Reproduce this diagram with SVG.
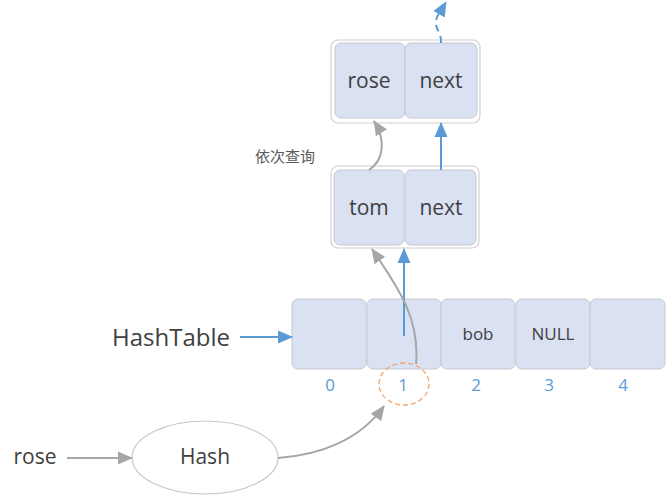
<svg xmlns="http://www.w3.org/2000/svg" width="667" height="496" viewBox="0 0 667 496">
<style>
.outer{fill:#fff;stroke:#d0d0d0;stroke-width:1.2}
.cell{fill:#dae1f2;stroke:#c4c8d0;stroke-width:1}
.t{font-family:"Open Sans","Noto Sans",sans-serif;fill:#404040;text-anchor:middle;dominant-baseline:central}
.idx{font-family:"Open Sans","Noto Sans",sans-serif;fill:#5b9bd5;font-size:17px;text-anchor:middle;dominant-baseline:central}
.blue{fill:none;stroke:#5b9bd5;stroke-width:2}
.gray{fill:none;stroke:#a6a6a6;stroke-width:2}
</style>
<defs>
<marker id="ab" markerUnits="userSpaceOnUse" markerWidth="16" markerHeight="16" viewBox="0 0 16 16" refX="14" refY="8" orient="auto">
<path d="M0,1.5 L15,8 L0,14.5 Z" fill="#5b9bd5"/>
</marker>
<marker id="ag" markerUnits="userSpaceOnUse" markerWidth="16" markerHeight="16" viewBox="0 0 16 16" refX="14" refY="8" orient="auto">
<path d="M0,1.5 L15,8 L0,14.5 Z" fill="#a6a6a6"/>
</marker>
</defs>
<g id="node-rose">
<rect class="outer" x="331" y="40" width="149" height="83" rx="7"/>
<rect class="cell" x="335" y="43" width="70" height="75" rx="6"/>
<rect class="cell" x="405" y="43" width="72" height="75" rx="6"/>
<text class="t" x="369" y="80" font-size="21">rose</text>
<text class="t" x="441" y="80" font-size="21">next</text>
</g>
<g id="node-tom">
<rect class="outer" x="331" y="166" width="148" height="82" rx="7"/>
<rect class="cell" x="334" y="170" width="70" height="75" rx="6"/>
<rect class="cell" x="405" y="170" width="71" height="75" rx="6"/>
<text class="t" x="369" y="207" font-size="21">tom</text>
<text class="t" x="441" y="207" font-size="21">next</text>
</g>
<g id="hashtable">
<rect class="cell" x="292" y="299" width="74" height="70" rx="6"/>
<rect class="cell" x="367" y="299" width="74" height="70" rx="6"/>
<rect class="cell" x="441" y="299" width="74" height="70" rx="6"/>
<rect class="cell" x="516" y="299" width="74" height="70" rx="6"/>
<rect class="cell" x="590" y="299" width="75" height="70" rx="6"/>
<text class="t" x="478" y="333" font-size="17">bob</text>
<text class="t" x="553" y="333" font-size="17">NULL</text>
<text class="idx" x="330" y="384">0</text>
<text class="idx" x="403" y="384">1</text>
<text class="idx" x="476" y="384">2</text>
<text class="idx" x="549" y="384">3</text>
<text class="idx" x="623" y="384">4</text>
</g>
<g id="label-hashtable">
<text class="t" x="171" y="336" font-size="24">HashTable</text>
</g>
<g id="slot-marker">
<ellipse cx="404" cy="384" rx="25" ry="21" fill="none" stroke="#f4a46a" stroke-width="1.3" stroke-dasharray="5,3"/>
</g>
<g id="node-hash">
<ellipse cx="205" cy="457.5" rx="73" ry="36.5" fill="#fff" stroke="#c8c8c8" stroke-width="1.2"/>
<text class="t" x="205" y="456" font-size="21">Hash</text>
</g>
<g id="label-rose">
<text class="t" x="35" y="456" font-size="21">rose</text>
</g>
<g id="label-query">
<text x="285" y="155" font-family="'Noto Sans CJK SC',sans-serif" font-size="15" fill="#595959" text-anchor="middle" dominant-baseline="central">依次查询</text>
</g>
<g id="connectors">
<path class="blue" d="M240,337 L292,337" marker-end="url(#ab)"/>
<path class="blue" d="M404,336 L404,249" marker-end="url(#ab)"/>
<path class="blue" d="M441,170 L441,123" marker-end="url(#ab)"/>
<path class="blue" d="M441,43 C442,33 434,28 436,20 C438,14 442,9 446,2" stroke-dasharray="7,5" marker-end="url(#ab)"/>
<path class="gray" d="M67,458 L132,458" marker-end="url(#ag)"/>
<path class="gray" d="M278,458 C320,455 360,440 384,406" marker-end="url(#ag)"/>
<path class="gray" d="M416,364 C420,320 400,290 372,249" marker-end="url(#ag)"/>
<path class="gray" d="M369,170 C384,160 386,140 374,121" marker-end="url(#ag)"/>
</g>
</svg>
